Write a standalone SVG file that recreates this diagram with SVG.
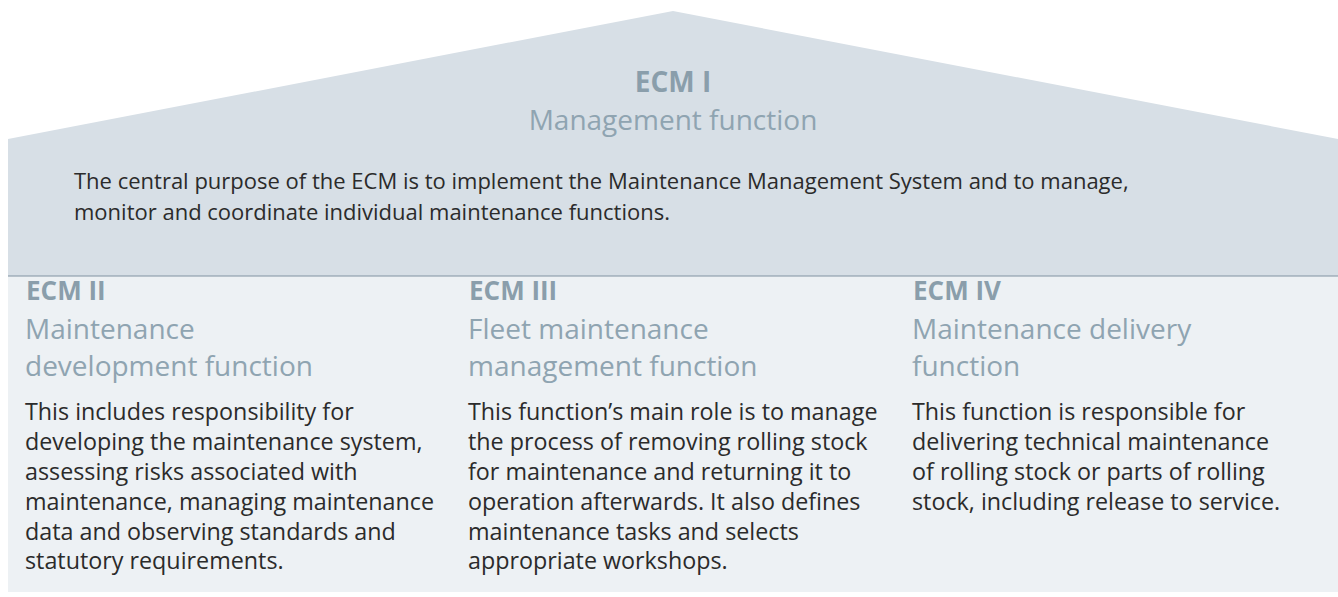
<svg xmlns="http://www.w3.org/2000/svg" width="1338" height="597" viewBox="0 0 1338 597">
<style>
.t{font-family:"Open Sans","Noto Sans",sans-serif;}
.h{font-size:26px;font-weight:700;fill:#8a9eab;}
.h1{font-size:28px;}
.s{font-size:28px;fill:#8fa4b1;}
.b{font-size:23.3px;fill:#2b2b2b;}
.b1{font-size:22px;}
</style>
<rect width="1338" height="597" fill="#ffffff"/>
<g id="roof">
<polygon points="8,139 673,11 1338,139 1338,276 8,276" fill="#d7dfe6"/>
<text class="t h h1" x="673" y="92" text-anchor="middle">ECM I</text>
<text class="t s" x="673" y="130" text-anchor="middle">Management function</text>
<text class="t b b1" x="74" y="189">The central purpose of the ECM is to implement the Maintenance Management System and to manage,</text>
<text class="t b b1" x="74" y="220">monitor and coordinate individual maintenance functions.</text>
</g>
<line x1="8" y1="276" x2="1338" y2="276" stroke="#9eadb8" stroke-width="1.5"/>
<rect x="8" y="277" width="1330" height="315" fill="#edf1f4"/>
<g id="ecm2">
<text class="t h" x="26" y="300">ECM II</text>
<text class="t s" x="25" y="339">Maintenance</text>
<text class="t s" x="25" y="376">development function</text>
<text class="t b" x="25" y="420">This includes responsibility for</text>
<text class="t b" x="25" y="450">developing the maintenance system,</text>
<text class="t b" x="25" y="480">assessing risks associated with</text>
<text class="t b" x="25" y="510">maintenance, managing maintenance</text>
<text class="t b" x="25" y="540">data and observing standards and</text>
<text class="t b" x="25" y="569">statutory requirements.</text>
</g>
<g id="ecm3">
<text class="t h" x="469" y="300">ECM III</text>
<text class="t s" x="468" y="339">Fleet maintenance</text>
<text class="t s" x="468" y="376">management function</text>
<text class="t b" x="468" y="420">This function’s main role is to manage</text>
<text class="t b" x="468" y="450">the process of removing rolling stock</text>
<text class="t b" x="468" y="480">for maintenance and returning it to</text>
<text class="t b" x="468" y="510">operation afterwards. It also defines</text>
<text class="t b" x="468" y="540">maintenance tasks and selects</text>
<text class="t b" x="468" y="569">appropriate workshops.</text>
</g>
<g id="ecm4">
<text class="t h" x="913" y="300">ECM IV</text>
<text class="t s" x="912" y="339">Maintenance delivery</text>
<text class="t s" x="912" y="376">function</text>
<text class="t b" x="912" y="420">This function is responsible for</text>
<text class="t b" x="912" y="450">delivering technical maintenance</text>
<text class="t b" x="912" y="480">of rolling stock or parts of rolling</text>
<text class="t b" x="912" y="510">stock, including release to service.</text>
</g>
<g id="connectors"></g>
</svg>
